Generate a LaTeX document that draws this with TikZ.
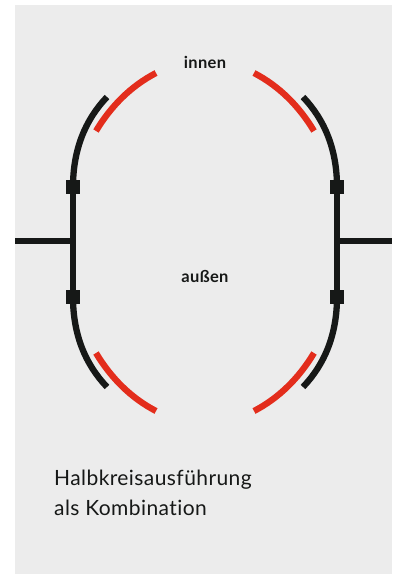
\documentclass[tikz,border=0pt]{standalone}
\usepackage{fontspec}
\setmainfont[Ligatures=NoCommon,LetterSpace=2]{Lato}
\definecolor{panel}{HTML}{ECECEC}
\definecolor{ink}{HTML}{161817}
\definecolor{signal}{HTML}{E32D1C}
\tikzset{
  x=1pt,y=-1pt,
  rail/.style={draw=ink,line width=6.3pt},
  curve/.style={draw=signal,line width=6.3pt},
  joint/.style={fill=ink,minimum size=14pt,inner sep=0pt,outer sep=0pt,shape=rectangle},
  tag/.style={font=\fontsize{16.5}{18}\selectfont\bfseries,text=ink,inner sep=0pt},
  caption/.style={font=\fontsize{21}{30}\selectfont,text=ink,align=left,anchor=base west,inner sep=0pt}
}
\begin{document}
\begin{tikzpicture}
\useasboundingbox (0,0) rectangle (392,574);
\fill[panel] (15,5) rectangle (392,574);
\node[joint] (lt) at (73,187) {};
\node[joint] (lb) at (73,297) {};
\node[joint] (rt) at (337,187) {};
\node[joint] (rb) at (337,297) {};
\coordinate (le) at (15,241);
\coordinate (re) at (392,241);
\coordinate (lm) at (73,241);
\coordinate (rm) at (337,241);
\draw[rail] (lt.center) -- (lb.center);
\draw[rail] (rt.center) -- (rb.center);
\draw[rail] (le) -- (lm);
\draw[rail] (rm) -- (re);
\draw[rail] (lt.center) .. controls (73,150) and (85,120) .. (107,97);
\draw[rail] (rt.center) .. controls (337,150) and (325,120) .. (303,97);
\draw[rail] (lb.center) .. controls (73,334) and (85,364) .. (107,387);
\draw[rail] (rb.center) .. controls (337,334) and (325,364) .. (303,387);
\draw[curve] (96,131) .. controls (111,106) and (131,86) .. (156,73);
\draw[curve] (314,131) .. controls (299,106) and (279,86) .. (254,73);
\draw[curve] (96,353) .. controls (111,378) and (131,398) .. (156,411);
\draw[curve] (314,353) .. controls (299,378) and (279,398) .. (254,411);
\node[tag] (inn) at (205,62) {innen};
\node[tag] (aus) at (205,276) {außen};
\node[caption] (cap) at (54,515) {Halbkreisausführung\\als Kombination};
\end{tikzpicture}
\end{document}
